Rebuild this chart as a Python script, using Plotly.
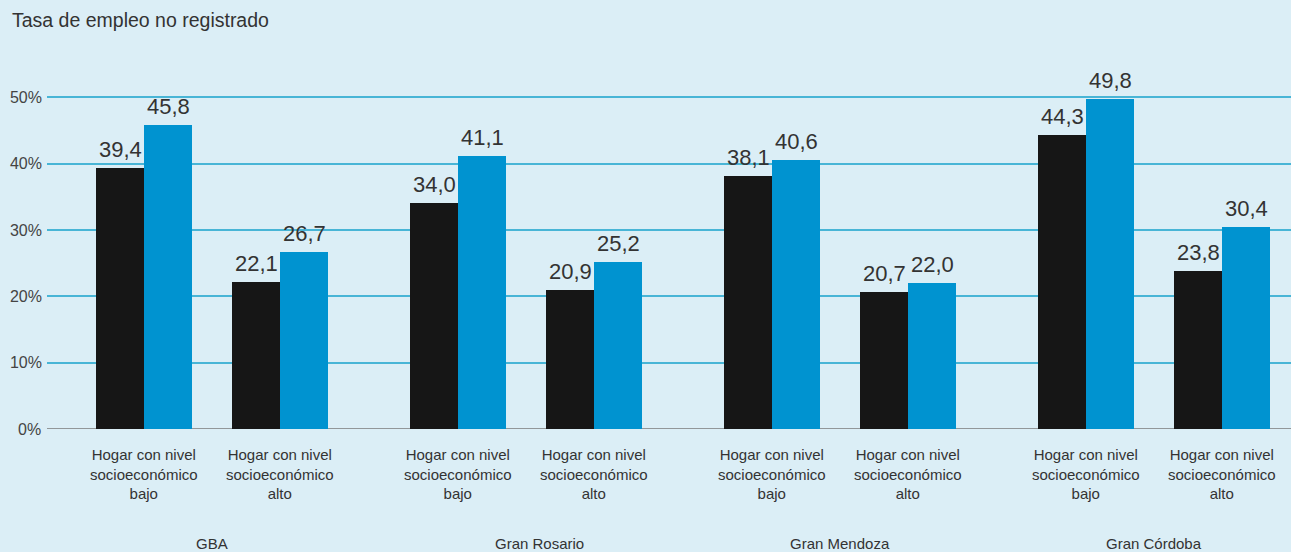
import plotly.graph_objects as go

# Tasa de empleo no registrado por aglomerado y nivel socioeconómico del hogar
aglomerados = ["GBA", "Gran Rosario", "Gran Mendoza", "Gran Córdoba"]
niveles = ["Hogar con nivel<br>socioeconómico<br>bajo", "Hogar con nivel<br>socioeconómico<br>alto"]

# Dos series por nivel: barra negra y barra azul (bajo, alto en cada aglomerado)
serie_negra = [39.4, 22.1, 34.0, 20.9, 38.1, 20.7, 44.3, 23.8]
serie_azul = [45.8, 26.7, 41.1, 25.2, 40.6, 22.0, 49.8, 30.4]

y_ticks = [0, 10, 20, 30, 40, 50]
y_tick_text = ["0%", "10%", "20%", "30%", "40%", "50%"]

# Geometría del eje x (unidades = píxeles del área de trazado)
GROUP_STEP = 314
PAIR_STEP = 136
FIRST_PAIR = 97
BAR_W = 48
GROUP_LABEL_SHIFT = [0, 13, 0, 0]

centros = []
for g in range(len(aglomerados)):
    for n in range(len(niveles)):
        centros.append(FIRST_PAIR + g * GROUP_STEP + n * PAIR_STEP)

x_negra = [c - BAR_W / 2 for c in centros]
x_azul = [c + BAR_W / 2 for c in centros]

NEGRO = "#161616"
AZUL = "#0093d0"
FONDO = "#dbeef6"
TEXTO = "#333333"
FONT = "Liberation Sans"

W, H = 1291, 552
M_L, M_R, M_T, M_B = 47, 0, 31, 123

fig = go.Figure()
fig.add_trace(go.Bar(x=x_negra, y=serie_negra, width=BAR_W, marker=dict(color=NEGRO, line=dict(width=0)),
                     showlegend=False, hoverinfo="y"))
fig.add_trace(go.Bar(x=x_azul, y=serie_azul, width=BAR_W, marker=dict(color=AZUL, line=dict(width=0)),
                     showlegend=False, hoverinfo="y"))

annotations = []
# Valores sobre las barras
for xs, ys in ((x_negra, serie_negra), (x_azul, serie_azul)):
    for x, v in zip(xs, ys):
        annotations.append(dict(x=x, y=v, xref="x", yref="y", text=f"{v:.1f}".replace(".", ","),
                                showarrow=False, yanchor="bottom", yshift=4,
                                font=dict(family=FONT, size=22, color=TEXTO)))

# Etiquetas de nivel bajo cada par de barras
for i, c in enumerate(centros):
    annotations.append(dict(x=c, y=0, xref="x", yref="y", text=niveles[i % 2], showarrow=False,
                            yanchor="top", yshift=-15, align="center",
                            font=dict(family=FONT, size=15, color=TEXTO)))

# Nombre del aglomerado
for g, nombre in enumerate(aglomerados):
    cx = (centros[2 * g] + centros[2 * g + 1]) / 2 + GROUP_LABEL_SHIFT[g]
    annotations.append(dict(x=cx, y=0, xref="x", yref="y", text=nombre, showarrow=False,
                            yanchor="top", yshift=-104,
                            font=dict(family=FONT, size=15, color=TEXTO)))

# Título, a 10 px del borde izquierdo y ~20 px del superior
annotations.append(dict(x=(10 - M_L) / (W - M_L - M_R), y=1 + (M_T - 20) / (H - M_T - M_B),
                        xref="paper", yref="paper", text="Tasa de empleo no registrado",
                        showarrow=False, xanchor="left", yanchor="middle",
                        font=dict(family=FONT, size=19.5, color=TEXTO)))

# Etiqueta de 0% junto a la línea base
annotations.append(dict(x=0, y=0, xref="paper", yref="y", text="0%", showarrow=False, xanchor="right",
                        xshift=-4, font=dict(family=FONT, size=16, color="#444444")))

fig.update_layout(
    width=W, height=H,
    paper_bgcolor=FONDO, plot_bgcolor=FONDO,
    margin=dict(l=M_L, r=M_R, t=M_T, b=M_B),
    barmode="overlay", bargap=0,
    xaxis=dict(range=[0, W - M_L - M_R], showgrid=False, zeroline=False, showticklabels=False,
               ticks="", fixedrange=True),
    yaxis=dict(range=[0, 60], tickvals=y_ticks[1:], ticktext=y_tick_text[1:], showgrid=True,
               gridcolor="#48b5d6", gridwidth=1.5, zeroline=False, ticks="",
               ticklabelstandoff=4, tickfont=dict(family=FONT, size=16, color="#444444"),
               fixedrange=True),
    annotations=annotations,
    showlegend=False,
)

# Línea base en 0%
fig.add_shape(type="line", xref="paper", yref="y", x0=0, x1=1, y0=0, y1=0,
              line=dict(color="#7a7a7a", width=1.5), layer="below")

fig.write_html("out.html")
